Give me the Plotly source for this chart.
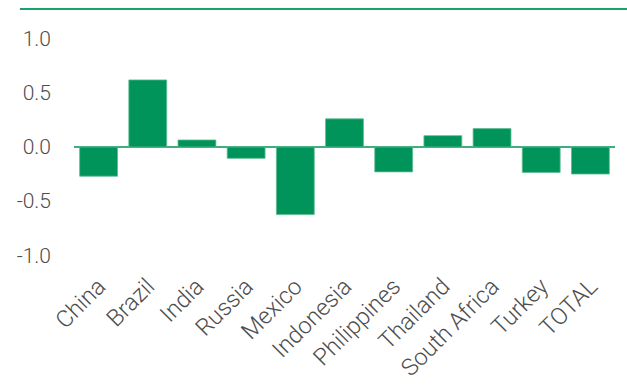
import plotly.graph_objects as go

# Countries and their values
countries = ["China", "Brazil", "India", "Russia", "Mexico", "Indonesia",
             "Philippines", "Thailand", "South Africa", "Turkey", "TOTAL"]
values = [-0.27, 0.62, 0.065, -0.105, -0.625, 0.26,
          -0.23, 0.105, 0.17, -0.235, -0.25]
y_ticks = [1.0, 0.5, 0.0, -0.5, -1.0]
y_tick_text = ["1.0", "0.5", "0.0", "-0.5", "-1.0"]

BAR_GREEN = "#00945a"
LINE_GREEN = "#19a26b"
TEXT_GREY = "#4d4d4d"
FONT = "Roboto"

fig = go.Figure(
    go.Bar(
        x=countries,
        y=values,
        marker=dict(color=BAR_GREEN, line=dict(color="#5dbb90", width=0.8)),
        width=0.77,
    )
)

fig.update_layout(
    width=627,
    height=385,
    margin=dict(l=74, r=12, t=28, b=119),
    paper_bgcolor="white",
    plot_bgcolor="white",
    showlegend=False,
    font=dict(family=FONT, color=TEXT_GREY, size=19, weight=300),
    shapes=[
        dict(
            type="line", xref="paper", yref="paper",
            x0=-0.1, x1=1.03, y0=1.08, y1=1.08,
            line=dict(color=LINE_GREEN, width=2),
        )
    ],
)

fig.update_xaxes(
    tickangle=-45,
    automargin=False,
    showgrid=False,
    showline=False,
    ticks="",
    tickfont=dict(family=FONT, size=23.5, color=TEXT_GREY, weight=300),
    ticklabelstandoff=1,
)

fig.update_yaxes(
    range=[-1.1, 1.1],
    automargin=False,
    tickvals=y_ticks,
    ticktext=y_tick_text,
    showgrid=False,
    showline=False,
    zeroline=True,
    zerolinecolor="#3fae7e",
    zerolinewidth=2,
    ticks="",
    tickfont=dict(family=FONT, size=21, color=TEXT_GREY, weight=300),
    ticklabelstandoff=22,
)

fig.write_html("out.html")
